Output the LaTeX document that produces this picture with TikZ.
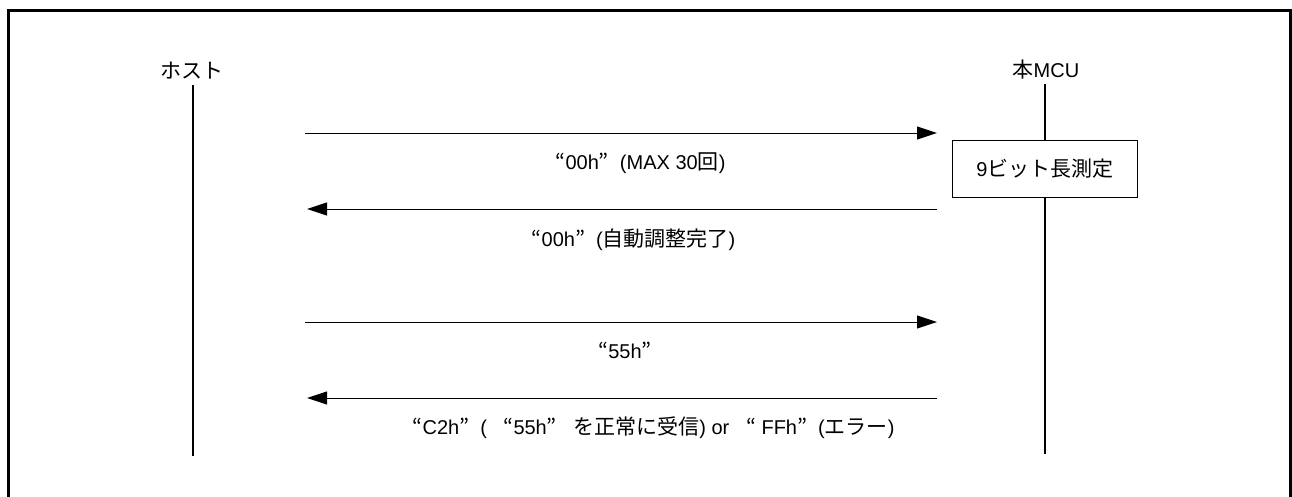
\documentclass[tikz,border=0pt]{standalone}
\usepackage{fontspec}
\setmainfont{Liberation Sans}
\newfontfamily\jpfont[Scale=1.05]{Noto Sans CJK JP}
\newcommand{\J}[1]{{\jpfont #1}}
\newcommand{\oq}{{\jpfont\makebox[1em][r]{“}}}
\newcommand{\cq}{{\jpfont\makebox[1em][l]{”}}}
\usetikzlibrary{arrows.meta}
\begin{document}
\begin{tikzpicture}[x=1pt,y=-1pt,
  lbl/.style={inner sep=0pt,font=\fontsize{20}{24}\selectfont},
  life/.style={line width=1.5pt},
  msg/.style={line width=1pt,-{Triangle[length=20pt,width=13pt]}},
  procbox/.style={draw,line width=1.2pt,minimum width=185pt,minimum height=57pt,inner sep=0pt,font=\fontsize{20}{24}\selectfont}]
\useasboundingbox (0,0) rectangle (1292,496);
% frame (bottom edge lies outside the picture)
\draw[line width=3pt] (8.5,510) -- (8.5,10.5) -- (1290.5,10.5) -- (1290.5,510);
% participants
\node[lbl] (host) at (192,71) {\J{ホスト}};
\node[lbl] (mcu) at (1046,70) {\J{本}MCU};
\coordinate (hostend) at (193,456);
\coordinate (mcuend) at (1045,454);
\node[procbox] (meas) at (1045,169) {9\J{ビット長測定}};
\draw[life] (193,85) -- (hostend);
\draw[life] (1045,84) -- (meas.north);
\draw[life] (meas.south) -- (mcuend);
% message end points
\coordinate (m1s) at (305,133); \coordinate (m1e) at (937,133);
\coordinate (m2s) at (937,209); \coordinate (m2e) at (307,209);
\coordinate (m3s) at (305,322); \coordinate (m3e) at (937,322);
\coordinate (m4s) at (937,398); \coordinate (m4e) at (307,398);
\draw[msg] (m1s) -- (m1e);
\draw[msg] (m2s) -- (m2e);
\draw[msg] (m3s) -- (m3e);
\draw[msg] (m4s) -- (m4e);
% labels
\node[lbl] (l1) at (635,163) {\oq 00h\cq(MAX 30\J{回})};
\node[lbl] (l2) at (628,240) {\oq 00h\cq(\J{自動調整完了})};
\node[lbl] (l3) at (625,350) {\oq 55h\cq};
\node[lbl] (l4) at (648,428) {\oq C2h\cq( \oq 55h\cq\ \J{を正常に受信}) or \oq\ FFh\cq(\J{エラー})};
\end{tikzpicture}
\end{document}
